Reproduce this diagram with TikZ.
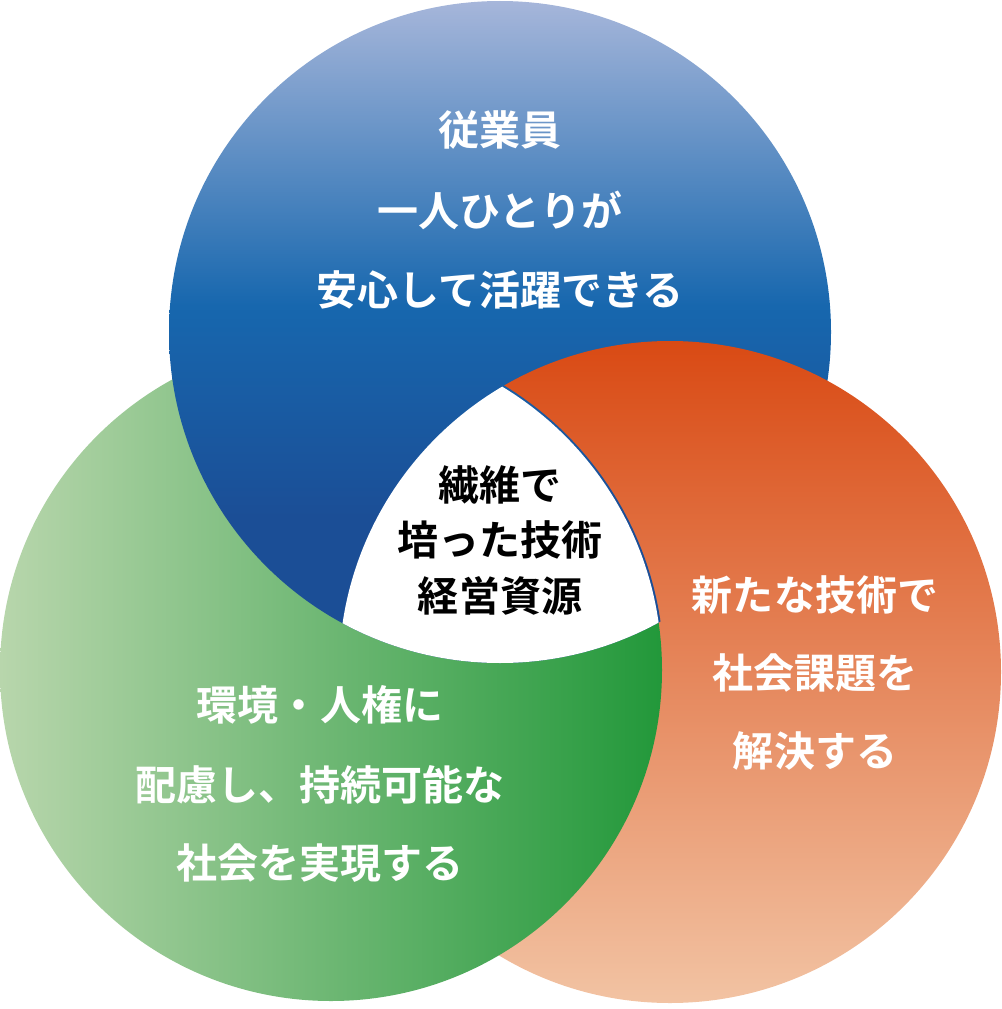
\documentclass[tikz,border=0pt]{standalone}
\usepackage{fontspec}
\newfontfamily\jp{Noto Sans CJK JP Bold}
\definecolor{bTop}{HTML}{A6B6DA}
\definecolor{bMid}{HTML}{1767AE}
\definecolor{bBot}{HTML}{1B4E96}
\definecolor{oTop}{HTML}{D94A14}
\definecolor{oBot}{HTML}{F2C3A3}
\definecolor{gL}{HTML}{B8D6AC}
\definecolor{gR}{HTML}{22983A}
\pgfdeclareverticalshading{blueshade}{100bp}{color(0bp)=(bBot); color(36bp)=(bBot); color(52bp)=(bMid); color(75bp)=(bTop); color(100bp)=(bTop)}
\tikzset{
  wtxt/.style={text=white,font=\jp\fontsize{35}{40}\selectfont,align=center},
  ktxt/.style={text=black,font=\jp\fontsize{35}{40}\selectfont,align=center},
}
\begin{document}
\begin{tikzpicture}[x=0.03cm,y=-0.03cm]
\useasboundingbox (0,0) rectangle (1001,1009);
\def\bc{(500,332) circle (331)}
\def\oc{(670,672) circle (331)}
\def\gc{(331,670) circle (331)}
\def\gcb{(331,670) circle (333)}
\shade[shading=blueshade] \bc;
\shade[top color=oTop,bottom color=oBot] \oc;
\shade[left color=gL,right color=gR] \gc;
\begin{scope}
\clip \gcb;
\shade[shading=blueshade] \bc;
\end{scope}
\begin{scope}
\clip \bc; \clip \oc;
\fill[white] \gc;
\end{scope}
\node[wtxt] (b1) at (500,130) {従業員};
\node[wtxt] (b2) at (500,210) {一人ひとりが};
\node[wtxt] (b3) at (500,290) {安心して活躍できる};
\node[ktxt] (c1) at (500,485) {繊維で};
\node[ktxt] (c2) at (500,540) {培った技術};
\node[ktxt] (c3) at (500,596) {経営資源};
\node[wtxt] (o1) at (815,595) {新たな技術で};
\node[wtxt] (o2) at (815,673) {社会課題を};
\node[wtxt] (o3) at (815,751) {解決する};
\node[wtxt] (g1) at (320,705) {環境・人権に};
\node[wtxt] (g2) at (320,785) {配慮し、持続可能な};
\node[wtxt] (g3) at (320,863) {社会を実現する};
\end{tikzpicture}
\end{document}
